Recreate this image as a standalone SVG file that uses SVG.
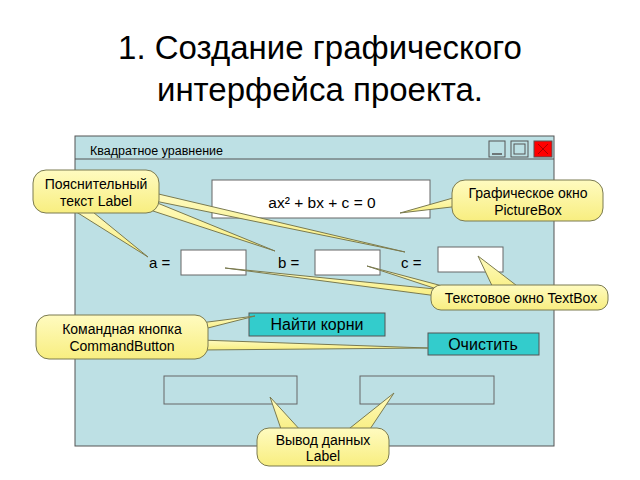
<svg xmlns="http://www.w3.org/2000/svg" width="640" height="480" viewBox="0 0 640 480">
<defs>
<linearGradient id="yg" x1="0" y1="0" x2="0" y2="1">
<stop offset="0" stop-color="#fffbc0"/>
<stop offset="1" stop-color="#f8ee80"/>
</linearGradient>
</defs>
<style>
text{font-family:"Liberation Sans",Arial,sans-serif;fill:#000}
.title{font-size:33px}
.win{fill:#bde0e4;stroke:#555;stroke-width:1}
.box{fill:#fff;stroke:#666;stroke-width:1}
.lbl{fill:none;stroke:#666;stroke-width:1}
.btn{fill:#33cccc;stroke:#555;stroke-width:1}
.co{fill:url(#yg);stroke:#7a7a50;stroke-width:1}
.ct{font-size:14px;text-anchor:middle}
.ft{font-size:15px}
.bt{font-size:16px;text-anchor:middle}
</style>
<rect width="640" height="480" fill="#fff"/>
<text class="title" x="320" y="59" text-anchor="middle">1. Создание графического</text>
<text class="title" x="320" y="101" text-anchor="middle">интерфейса проекта.</text>

<g id="window">
<rect class="win" x="75" y="136" width="479" height="310"/>
<line x1="75" y1="159" x2="554" y2="159" stroke="#555"/>
<text x="90" y="155" font-size="12.5">Квадратное уравнение</text>
<rect x="489" y="141" width="16" height="16" fill="none" stroke="#555"/>
<line x1="492" y1="154" x2="502" y2="154" stroke="#555" stroke-width="1.5"/>
<rect x="511" y="141" width="17" height="16" fill="none" stroke="#555"/>
<rect x="514" y="144" width="11" height="10" fill="none" stroke="#555"/>
<rect x="534" y="141" width="18" height="16" fill="#ff0000" stroke="#555"/>
<path d="M538 144 L548 154 M548 144 L538 154" stroke="#a00" stroke-width="1"/>
</g>

<g id="picturebox">
<rect class="box" x="212" y="180" width="218" height="38"/>
<text x="322" y="208" font-size="15.5" text-anchor="middle">ax² + bx + c = 0</text>
</g>
<g id="inputs">
<text class="ft" x="149" y="268">a =</text>
<rect class="box" x="181" y="250" width="65" height="25"/>
<text class="ft" x="278" y="268">b =</text>
<rect class="box" x="315" y="250" width="65" height="25"/>
<text class="ft" x="401" y="268">c =</text>
<rect class="box" x="438" y="247" width="65" height="25"/>
</g>
<g id="btn-find">
<rect class="btn" x="249" y="313" width="136" height="23"/>
<text class="bt" x="317" y="330">Найти корни</text>
</g>
<g id="btn-clear">
<rect class="btn" x="428" y="333" width="111" height="22"/>
<text class="bt" x="483" y="350">Очистить</text>
</g>
<g id="outputs">
<rect class="lbl" x="164" y="376" width="133" height="28"/>
<rect class="lbl" x="360" y="376" width="134" height="28"/>
</g>

<g id="connectors">
<polygon class="co" points="70,208 88,208 148,257"/>
<polygon class="co" points="150,200 150,210 275,251"/>
<polygon class="co" points="150,192 150,200 405,252"/>
<polygon class="co" points="460,196 460,206 400,213"/>
<polygon class="co" points="445,290 445,297 225,268"/>
<polygon class="co" points="450,288 455,295 367,266"/>
<polygon class="co" points="495,292 525,292 478,256"/>
<polygon class="co" points="200,323 200,330 255,316"/>
<polygon class="co" points="200,340 200,350 428,348"/>
<polygon class="co" points="282,432 302,432 270,397"/>
<polygon class="co" points="345,432 368,432 394,393"/>
</g>

<g id="callout-label">
<rect class="co" x="33" y="170" width="126" height="43" rx="13"/>
<text class="ct" x="96" y="189">Пояснительный</text>
<text class="ct" x="96" y="206">текст Label</text>
</g>
<g id="callout-picturebox">
<rect class="co" x="452" y="180" width="151" height="41" rx="13"/>
<text class="ct" x="528" y="198">Графическое окно</text>
<text class="ct" x="528" y="215">PictureBox</text>
</g>
<g id="callout-textbox">
<rect class="co" x="431" y="285" width="177" height="25" rx="10"/>
<text class="ct" x="521" y="303">Текстовое окно TextBox</text>
</g>
<g id="callout-button">
<rect class="co" x="36" y="315" width="172" height="44" rx="13"/>
<text class="ct" x="122" y="334">Командная кнопка</text>
<text class="ct" x="122" y="351">CommandButton</text>
</g>
<g id="callout-output">
<rect class="co" x="257" y="428" width="132" height="38" rx="12"/>
<text class="ct" x="323" y="445">Вывод данных</text>
<text class="ct" x="323" y="461">Label</text>
</g>
</svg>
